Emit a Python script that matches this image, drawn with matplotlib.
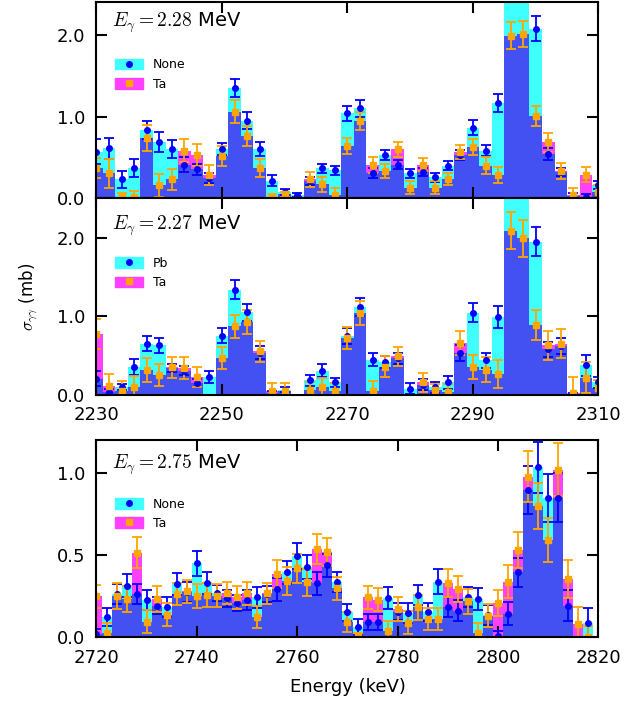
import numpy as np
import matplotlib
matplotlib.use('Agg')
import matplotlib.pyplot as plt
from matplotlib.patches import Patch
from matplotlib.lines import Line2D

plt.rcParams['mathtext.fontset'] = 'cm'

# верхняя и средняя панели: 2230..2310 кэВ, шаг 2
energy_low = np.arange(2230, 2312, 2)
# нижняя панель: 2720..2818 кэВ
energy_high = np.arange(2720, 2820, 2)

# E = 2.28 MeV
none_228 = [0.57, 0.61, 0.23, 0.375, 0.835, 0.685, 0.60, 0.41, 0.355, 0.245,
            0.60, 1.35, 0.95, 0.60, 0.216, 0.08, 0.04, 0.21, 0.365, 0.34,
            1.04, 1.10, 0.31, 0.53, 0.41, 0.305, 0.32, 0.255, 0.395, 0.53,
            0.865, 0.583, 1.17, 2.75, 2.70, 2.075, 0.54, 0.32, 0.03, 0.02, 0.16]
none_228_err = [0.15, 0.13, 0.10, 0.11, 0.11, 0.12, 0.11, 0.09, 0.07, 0.06,
                0.07, 0.11, 0.10, 0.085, 0.07, 0.035, 0.02, 0.05, 0.06, 0.06,
                0.09, 0.10, 0.06, 0.065, 0.055, 0.055, 0.05, 0.05, 0.055, 0.06,
                0.09, 0.07, 0.11, 0.20, 0.18, 0.15, 0.07, 0.05, 0.03, 0.03, 0.05]
ta_228 = [0.37, 0.305, 0.01, 0.02, 0.74, 0.16, 0.23, 0.58, 0.53, 0.285,
          0.52, 1.06, 0.76, 0.37, 0.02, 0.05, 0.0, 0.23, 0.17, 0.04,
          0.64, 0.94, 0.41, 0.33, 0.60, 0.13, 0.41, 0.13, 0.235, 0.57,
          0.63, 0.40, 0.285, 1.99, 2.01, 1.01, 0.685, 0.335, 0.04, 0.29, 0.08]
ta_228_err = [0.12, 0.18, 0.05, 0.07, 0.16, 0.14, 0.13, 0.14, 0.13, 0.12,
              0.12, 0.14, 0.12, 0.105, 0.03, 0.03, 0.0, 0.09, 0.09, 0.08,
              0.10, 0.11, 0.095, 0.085, 0.09, 0.08, 0.08, 0.08, 0.07, 0.085,
              0.10, 0.10, 0.10, 0.16, 0.16, 0.12, 0.115, 0.095, 0.08, 0.095, 0.08]

# E = 2.27 MeV
pb_227 = [0.21, 0.04, 0.10, 0.355, 0.65, 0.63, 0.34, 0.31, 0.15, 0.23,
          0.756, 1.34, 1.05, 0.54, 0.02, 0.07, 0.0, 0.19, 0.31, 0.16,
          0.75, 1.12, 0.45, 0.42, 0.47, 0.08, 0.13, 0.10, 0.16, 0.53,
          1.047, 0.44, 0.99, 2.85, 2.75, 1.95, 0.58, 0.62, 0.01, 0.376, 0.16]
pb_227_err = [0.10, 0.04, 0.04, 0.10, 0.095, 0.095, 0.05, 0.06, 0.05, 0.08,
              0.10, 0.12, 0.11, 0.08, 0.03, 0.03, 0.0, 0.07, 0.085, 0.06,
              0.10, 0.11, 0.085, 0.08, 0.07, 0.07, 0.07, 0.07, 0.08, 0.10,
              0.12, 0.095, 0.14, 0.20, 0.20, 0.18, 0.10, 0.10, 0.02, 0.13, 0.07]
ta_227 = [0.77, 0.12, 0.05, 0.107, 0.32, 0.256, 0.35, 0.34, 0.226, 0.0,
          0.47, 0.876, 0.93, 0.556, 0.05, 0.05, 0.0, 0.07, 0.107, 0.05,
          0.72, 1.04, 0.055, 0.36, 0.49, 0.0, 0.16, 0.06, 0.04, 0.66,
          0.355, 0.32, 0.27, 2.09, 1.99, 0.885, 0.63, 0.654, 0.03, 0.22, 0.085]
ta_227_err = [0.19, 0.15, 0.13, 0.13, 0.15, 0.14, 0.135, 0.14, 0.125, 0.0,
              0.14, 0.145, 0.15, 0.13, 0.10, 0.10, 0.0, 0.10, 0.11, 0.10,
              0.14, 0.15, 0.12, 0.13, 0.125, 0.0, 0.12, 0.08, 0.10, 0.15,
              0.15, 0.16, 0.18, 0.23, 0.24, 0.19, 0.19, 0.18, 0.20, 0.20, 0.10]

# E = 2.75 MeV
none_275 = [0.02, 0.127, 0.264, 0.315, 0.264, 0.23, 0.194, 0.183, 0.325, 0.278,
            0.45, 0.33, 0.27, 0.238, 0.21, 0.23, 0.244, 0.264, 0.294, 0.395,
            0.496, 0.43, 0.33, 0.44, 0.335, 0.153, 0.065, 0.093, 0.093, 0.24,
            0.157, 0.15, 0.26, 0.157, 0.34, 0.187, 0.163, 0.244, 0.234, 0.135,
            0.01, 0.143, 0.395, 0.895, 1.034, 0.85, 0.85, 0.194, 0.0, 0.089]
none_275_err = [0.03, 0.055, 0.06, 0.07, 0.06, 0.06, 0.05, 0.06, 0.066, 0.06,
                0.076, 0.065, 0.05, 0.05, 0.05, 0.06, 0.063, 0.05, 0.07, 0.07,
                0.08, 0.074, 0.07, 0.07, 0.06, 0.05, 0.05, 0.05, 0.05, 0.066,
                0.05, 0.06, 0.06, 0.055, 0.078, 0.06, 0.063, 0.06, 0.068, 0.06,
                0.03, 0.07, 0.09, 0.144, 0.156, 0.146, 0.15, 0.094, 0.0, 0.09]
ta_275 = [0.25, 0.03, 0.254, 0.234, 0.516, 0.097, 0.234, 0.137, 0.264, 0.28,
          0.254, 0.258, 0.254, 0.27, 0.244, 0.27, 0.123, 0.268, 0.385, 0.345,
          0.42, 0.335, 0.536, 0.52, 0.298, 0.093, 0.01, 0.244, 0.228, 0.042,
          0.173, 0.09, 0.183, 0.113, 0.113, 0.33, 0.294, 0.22, 0.03, 0.133,
          0.208, 0.34, 0.53, 0.976, 0.80, 0.59, 1.02, 0.355, 0.083, 0.0]
ta_275_err = [0.07, 0.06, 0.08, 0.08, 0.094, 0.07, 0.077, 0.07, 0.064, 0.07,
              0.073, 0.074, 0.07, 0.067, 0.07, 0.07, 0.068, 0.065, 0.085, 0.086,
              0.086, 0.08, 0.09, 0.086, 0.07, 0.06, 0.02, 0.068, 0.07, 0.06,
              0.07, 0.07, 0.075, 0.065, 0.068, 0.084, 0.08, 0.075, 0.06, 0.07,
              0.08, 0.10, 0.11, 0.154, 0.14, 0.133, 0.16, 0.117, 0.10, 0.07]

CYAN = '#40ffff'
MAG = '#ff40ff'
BLUE = '#4351f2'


def panel(ax, e, a, a_err, b, b_err, name_a, name_b, title, text_y, leg_y):
    a, a_err, b, b_err = map(np.array, (a, a_err, b, b_err))
    # гистограммы: cyan / magenta, пересечение синим
    ax.bar(e, a, width=2, color=CYAN, lw=0)
    ax.bar(e, b, width=2, color=MAG, lw=0)
    ax.bar(e, np.minimum(a, b), width=2, color=BLUE, lw=0)
    # пустые бины без точек
    ma = (a > 0) | (a_err > 0)
    mb = (b > 0) | (b_err > 0)
    ax.errorbar(e[ma], a[ma], yerr=a_err[ma], fmt='o', color='b', mec='b',
                ms=4, capsize=3.5, elinewidth=1.3, capthick=1.3)
    ax.errorbar(e[mb], b[mb], yerr=b_err[mb], fmt='s', color='orange', mec='orange',
                ms=4, capsize=3.5, elinewidth=1.3, capthick=1.3)
    h1 = (Patch(color=CYAN), Line2D([], [], marker='o', ls='', color='b', ms=4))
    h2 = (Patch(color=MAG), Line2D([], [], marker='s', ls='', color='orange', ms=4))
    ax.legend([h1, h2], [name_a, name_b], loc='upper left', bbox_to_anchor=(0.015, leg_y),
              frameon=False, fontsize=9, handlelength=2.2, handleheight=0.9,
              labelspacing=0.5)
    ax.text(0.03, text_y, title, transform=ax.transAxes, fontsize=14, va='center')
    ax.tick_params(direction='in', top=True, right=True, length=8, width=1.5,
                   labelsize=13, pad=8)
    for s in ax.spines.values():
        s.set_linewidth(1.5)


fig = plt.figure(figsize=(6.27, 7.11), dpi=100)
ax1 = fig.add_axes([0.1539, 0.7211, 0.8006, 0.2761])
ax2 = fig.add_axes([0.1539, 0.4444, 0.8006, 0.2767])
ax3 = fig.add_axes([0.1539, 0.1034, 0.8006, 0.2778])

panel(ax1, energy_low, none_228, none_228_err, ta_228, ta_228_err,
      'None', 'Ta', r'$E_\gamma=2.28$ MeV', 0.895, 0.77)
panel(ax2, energy_low, pb_227, pb_227_err, ta_227, ta_227_err,
      'Pb', 'Ta', r'$E_\gamma=2.27$ MeV', 0.86, 0.76)
panel(ax3, energy_high, none_275, none_275_err, ta_275, ta_275_err,
      'None', 'Ta', r'$E_\gamma=2.75$ MeV', 0.875, 0.765)

for ax in (ax1, ax2):
    ax.set_xlim(2230, 2310)
    ax.set_xticks([2230, 2250, 2270, 2290, 2310])
    ax.set_yticks([0, 1, 2])
    ax.set_yticklabels(['0.0', '1.0', '2.0'])
ax1.set_ylim(0, 2.4)
ax2.set_ylim(0, 2.5)
ax1.tick_params(labelbottom=False)

ax3.set_xlim(2720, 2820)
ax3.set_xticks(range(2720, 2821, 20))
ax3.set_ylim(0, 1.2)
ax3.set_yticks([0, 0.5, 1.0])
ax3.set_yticklabels(['0.0', '0.5', '1.0'])

ax2.set_ylabel(r'$\sigma_{\gamma\gamma}$ (mb)', fontsize=12, labelpad=12)
ax3.set_xlabel('Energy (keV)', fontsize=13, labelpad=8)

plt.savefig('out.png', dpi=100)
